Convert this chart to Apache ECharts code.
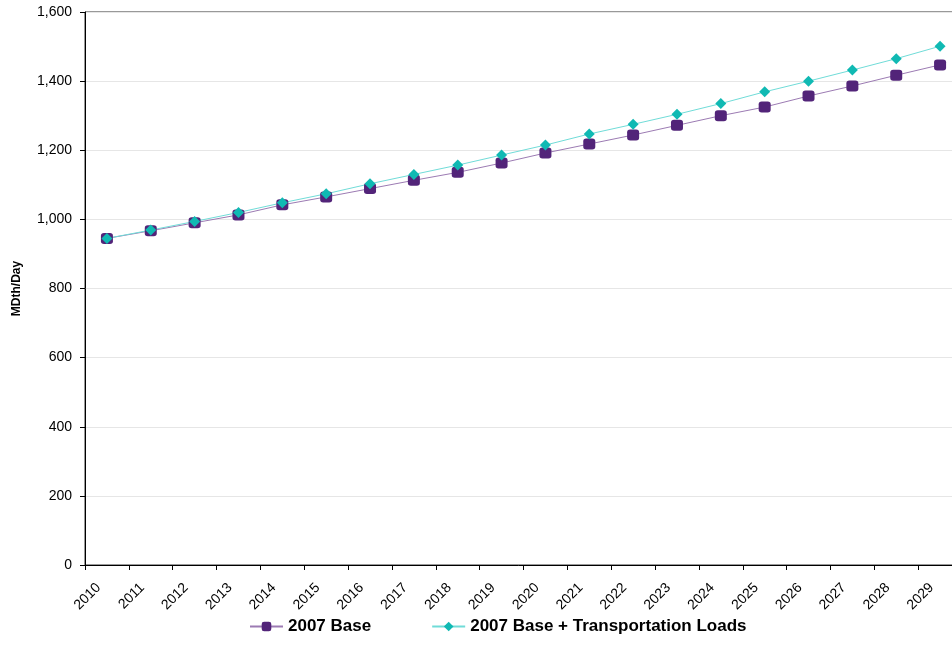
<!DOCTYPE html>
<html>
<head>
<meta charset="utf-8">
<script src="https://cdn.jsdelivr.net/npm/echarts@6/dist/echarts.min.js"></script>
<style>html,body{margin:0;padding:0;background:#fff;}#c{width:952px;height:666px;}</style>
</head>
<body>
<div id="c"></div>
<script>
var years = ['2010','2011','2012','2013','2014','2015','2016','2017','2018','2019','2020','2021','2022','2023','2024','2025','2026','2027','2028','2029'];
var base2007 = [945,967,990,1013,1042,1065,1089,1113,1136,1163,1192,1218,1244,1272,1300,1325,1357,1386,1417,1447];
var baseTransport = [945,969,994,1020,1048,1074,1103,1130,1157,1186,1215,1247,1275,1304,1335,1369,1400,1432,1465,1501];
var seriesNames = ['2007 Base','2007 Base + Transportation Loads'];

var chart = echarts.init(document.getElementById('c'));
chart.setOption({
  animation: false,
  backgroundColor: '#fff',
  textStyle: {fontFamily: 'Liberation Sans, Arial, sans-serif'},
  grid: {left: 85, right: -10, top: 12, bottom: 101, outerBoundsMode: 'none', containLabel: false,
         show: true, borderColor: '#333', borderWidth: 1, backgroundColor: 'transparent'},
  legend: {
    bottom: 26, left: 244,
    itemGap: 60, itemWidth: 33, itemHeight: 12,
    textStyle: {fontSize: 17, fontWeight: 'bold', color: '#000'},
    data: seriesNames
  },
  xAxis: {
    type: 'category', data: years, boundaryGap: true,
    axisLine: {lineStyle: {color: '#000', width: 1}},
    axisTick: {show: true, alignWithLabel: false, length: 5, lineStyle: {color: '#000'}},
    axisLabel: {rotate: 45, fontSize: 14, color: '#000', margin: 12, interval: 0, padding: [0, 12, 0, 0]}
  },
  yAxis: {
    type: 'value', min: 0, max: 1600, interval: 200,
    name: 'MDth/Day', nameLocation: 'middle', nameGap: 62, nameRotate: 90,
    nameTextStyle: {fontSize: 12, fontWeight: 'bold', color: '#000'},
    axisLine: {show: true, lineStyle: {color: '#000', width: 1}},
    axisTick: {show: true, length: 5, lineStyle: {color: '#000'}},
    axisLabel: {fontSize: 14, color: '#000', margin: 13, formatter: function(v){return v.toLocaleString('en-US');}},
    splitLine: {show: true, lineStyle: {color: '#e6e6e6', width: 1}}
  },
  series: [
    {
      name: seriesNames[0], type: 'line', data: base2007,
      symbol: 'roundRect', symbolSize: [12, 11],
      itemStyle: {color: '#522479'},
      lineStyle: {color: '#9c7bb3', width: 1}
    },
    {
      name: seriesNames[1], type: 'line', data: baseTransport,
      symbol: 'diamond', symbolSize: 11,
      itemStyle: {color: '#10b9b3'},
      lineStyle: {color: '#70dcd8', width: 1}
    }
  ]
});
</script>
</body>
</html>
